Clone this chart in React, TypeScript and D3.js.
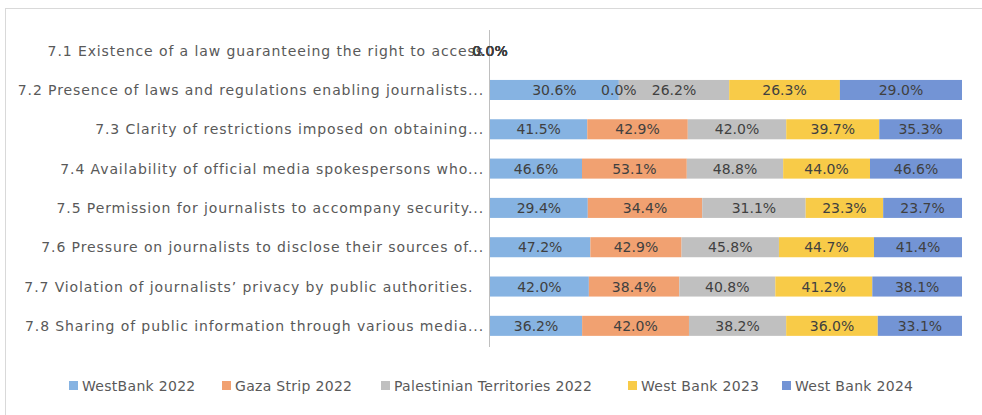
import React from "react";
import * as d3 from "d3";

const categories = [
  "7.1 Existence of a law guaranteeing the right to access",
  "7.2 Presence of laws and regulations enabling journalists...",
  "7.3 Clarity of restrictions imposed on obtaining...",
  "7.4 Availability of official media spokespersons who...",
  "7.5 Permission for journalists to accompany security...",
  "7.6 Pressure on journalists to disclose their sources of...",
  "7.7 Violation of journalists\u2019 privacy by public authorities.\u00A0\u00A0",
  "7.8 Sharing of public information through various media...",
];

const seriesNames = [
  "WestBank 2022",
  "Gaza Strip 2022",
  "Palestinian Territories 2022",
  "West Bank 2023",
  "West Bank 2024",
];

const westBank2022 = [0, 30.6, 41.5, 46.6, 29.4, 47.2, 42.0, 36.2];
const gaza2022 = [0, 0.0, 42.9, 53.1, 34.4, 42.9, 38.4, 42.0];
const palestinian2022 = [0, 26.2, 42.0, 48.8, 31.1, 45.8, 40.8, 38.2];
const westBank2023 = [0, 26.3, 39.7, 44.0, 23.3, 44.7, 41.2, 36.0];
const westBank2024 = [0, 29.0, 35.3, 46.6, 23.7, 41.4, 38.1, 33.1];

const seriesValues = [westBank2022, gaza2022, palestinian2022, westBank2023, westBank2024];
const colors = ["#86b3e2", "#f1a171", "#c0c0c0", "#f8cb48", "#7394d5"];

const W = 982;
const H = 415;
const FONT = "'DejaVu Sans', Arial, sans-serif";

export default function App() {
  const y = d3
    .scaleBand<number>()
    .domain(categories.map((_, i) => i))
    .range([31, 345.5])
    .paddingInner(0.49)
    .paddingOuter(0.245);

  const x0 = 490;
  const x1 = 962;

  const rows = categories.map((cat, i) => {
    const vals = seriesValues.map((s) => s[i]);
    const total = d3.sum(vals);
    const x = d3.scaleLinear().domain([0, total > 0 ? total : 1]).range([x0, x1]);
    let acc = 0;
    const segs = vals.map((v, j) => {
      const start = acc;
      acc += v;
      return { j, v, xs: x(start), xe: x(acc) };
    });
    return { cat, i, segs };
  });

  const legendX = [69, 222, 381, 628, 782];

  return (
    <svg
      width={W}
      height={H}
      style={{ position: "absolute", left: 0, top: 0, background: "#fff" }}
    >
      <rect x={0} y={0} width={W} height={H} fill="#fff" />
      <line x1={5.5} y1={8} x2={5.5} y2={H} stroke="#d9d9d9" />
      <line x1={5} y1={8.5} x2={W} y2={8.5} stroke="#d9d9d9" />

      {rows.map((r) => (
        <text
          key={"c" + r.i}
          x={484}
          y={(y(r.i) as number) + y.bandwidth() / 2}
          textAnchor="end"
          dominantBaseline="central"
          fontFamily={FONT}
          fontSize={14}
          letterSpacing={0.9}
          fill="#595959"
          style={{ whiteSpace: "pre" }}
        >
          {r.cat}
        </text>
      ))}

      {rows.map((r) =>
        r.segs.map((s) => (
          <rect
            key={"b" + r.i + "-" + s.j}
            x={s.xs}
            y={y(r.i) as number}
            width={Math.max(0, s.xe - s.xs)}
            height={y.bandwidth()}
            fill={colors[s.j]}
          />
        ))
      )}

      <line x1={489.5} y1={30} x2={489.5} y2={347} stroke="#bfbfbf" />

      {rows.map((r) =>
        r.segs.map((s) => (
          <text
            key={"l" + r.i + "-" + s.j}
            x={(s.xs + s.xe) / 2}
            y={(y(r.i) as number) + y.bandwidth() / 2}
            textAnchor="middle"
            dominantBaseline="central"
            fontFamily={FONT}
            fontSize={14}
            fill="#404040"
          >
            {s.v.toFixed(1) + "%"}
          </text>
        ))
      )}

      {seriesNames.map((n, j) => (
        <g key={"lg" + j} transform={`translate(${legendX[j]},386)`}>
          <rect x={0} y={-5} width={9} height={9} fill={colors[j]} />
          <text
            x={13}
            y={0}
            dominantBaseline="central"
            fontFamily={FONT}
            fontSize={14}
            letterSpacing={0.3}
            fill="#595959"
          >
            {n}
          </text>
        </g>
      ))}
    </svg>
  );
}
